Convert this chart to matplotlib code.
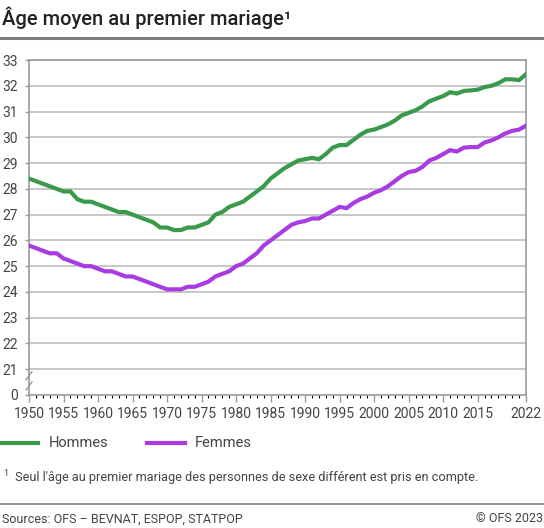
import numpy as np
import matplotlib
matplotlib.use("Agg")
import matplotlib.pyplot as plt
from matplotlib.lines import Line2D

# Données
annees = list(range(1950, 2023))
hommes = [28.4, 28.3, 28.2, 28.1, 28.0, 27.9, 27.9, 27.6, 27.5, 27.5,
          27.4, 27.3, 27.2, 27.1, 27.1, 27.0, 26.9, 26.8, 26.7, 26.5,
          26.5, 26.4, 26.4, 26.5, 26.5, 26.6, 26.7, 27.0, 27.1, 27.3,
          27.4, 27.5, 27.7, 27.9, 28.1, 28.4, 28.6, 28.8, 28.95, 29.1,
          29.15, 29.2, 29.15, 29.35, 29.6, 29.7, 29.7, 29.9, 30.1, 30.25,
          30.3, 30.4, 30.5, 30.65, 30.85, 30.95, 31.05, 31.2, 31.4, 31.5,
          31.6, 31.75, 31.7, 31.8, 31.82, 31.85, 31.95, 32.0, 32.1, 32.25,
          32.25, 32.22, 32.45]
femmes = [25.8, 25.7, 25.6, 25.5, 25.5, 25.3, 25.2, 25.1, 25.0, 25.0,
          24.9, 24.8, 24.8, 24.7, 24.6, 24.6, 24.5, 24.4, 24.3, 24.2,
          24.1, 24.1, 24.1, 24.2, 24.2, 24.3, 24.4, 24.6, 24.7, 24.8,
          25.0, 25.1, 25.3, 25.5, 25.8, 26.0, 26.2, 26.4, 26.6, 26.7,
          26.75, 26.85, 26.85, 27.0, 27.15, 27.3, 27.25, 27.45, 27.6, 27.7,
          27.85, 27.95, 28.1, 28.3, 28.5, 28.65, 28.7, 28.85, 29.1, 29.2,
          29.35, 29.5, 29.45, 29.6, 29.62, 29.62, 29.8, 29.88, 30.0, 30.15,
          30.25, 30.3, 30.45]
series = ["Hommes", "Femmes"]
xticks = [1950, 1955, 1960, 1965, 1970, 1975, 1980, 1985, 1990, 1995,
          2000, 2005, 2010, 2015, 2022]
yticks = [20] + list(range(21, 34))
ylabels = ["0"] + [str(v) for v in range(21, 34)]

vert = "#3a9a4b"
violet = "#a93be3"
gris = "#9a9a9a"
texte = "#444444"

plt.rcParams['font.family'] = ['Roboto', 'DejaVu Sans']

W, H = 544, 528
fig = plt.figure(figsize=(W / 100, H / 100), dpi=100)
ax = fig.add_axes([29 / W, 1 - 395 / H, (526 - 29) / W, (395 - 60) / H])

ax.plot(annees, hommes, color=vert, lw=3.0, solid_joinstyle='miter', zorder=3)
ax.plot(annees, femmes, color=violet, lw=3.0, solid_joinstyle='miter', zorder=3)

ax.set_xlim(1950, 2022)
ax.set_ylim(20, 33)
ax.set_xticks(xticks)
ax.set_xticks(annees, minor=True)
ax.set_yticks(yticks)
ax.set_yticklabels(ylabels)
for y in range(21, 34):
    ax.axhline(y, color="#bdbdbd", lw=1.2, zorder=1)

for s in ax.spines.values():
    s.set_color(gris)
    s.set_linewidth(1.2)
ax.tick_params(axis='both', colors=gris, labelcolor=texte, labelsize=10, width=1.0)
ax.tick_params(axis='x', which='major', length=5, pad=4)
ax.tick_params(axis='x', which='minor', length=2.5, width=0.8)
ax.tick_params(axis='y', length=3, pad=5)

# cassure de l'axe
d = 0.012
for yb in (20.35, 20.75):
    yt = (yb - 20) / 13
    ax.plot([-d * 0.5, d * 0.5], [yt - d, yt + d], transform=ax.transAxes,
            color=gris, lw=1.0, clip_on=False)

# titre
fig.text(2 / W, 1 - 18 / H, "Âge moyen au premier mariage¹", fontsize=14.5,
         fontweight='medium', color="#222222", va='center', ha='left')
fig.add_artist(Line2D([0, 1], [1 - 38 / H, 1 - 38 / H], transform=fig.transFigure,
                      color="#7f7f7f", lw=2.2))

# légende
ly = 1 - 443 / H
fig.add_artist(Line2D([0, 38 / W], [ly, ly], transform=fig.transFigure, color=vert, lw=3))
fig.text(49 / W, ly, series[0], fontsize=10.5, color=texte, va='center')
fig.add_artist(Line2D([147 / W, 185 / W], [ly, ly], transform=fig.transFigure, color=violet, lw=3))
fig.text(195 / W, ly, series[1], fontsize=10.5, color=texte, va='center')

# note
fig.text(3 / W, 1 - 474 / H, "1", fontsize=6.5, color=texte, va='center')
fig.text(15 / W, 1 - 477 / H,
         "Seul l'âge au premier mariage des personnes de sexe différent est pris en compte.",
         fontsize=9.2, color=texte, va='center')
fig.add_artist(Line2D([0, 1], [1 - 504 / H, 1 - 504 / H], transform=fig.transFigure,
                      color="#7f7f7f", lw=1.2))
fig.text(2 / W, 1 - 519 / H, "Sources: OFS – BEVNAT, ESPOP, STATPOP", fontsize=9.0,
         color=texte, va='center')
fig.text(1 - 1 / W, 1 - 519 / H, "© OFS 2023", fontsize=9.0, color=texte,
         va='center', ha='right')

fig.savefig("out.png", dpi=100)
